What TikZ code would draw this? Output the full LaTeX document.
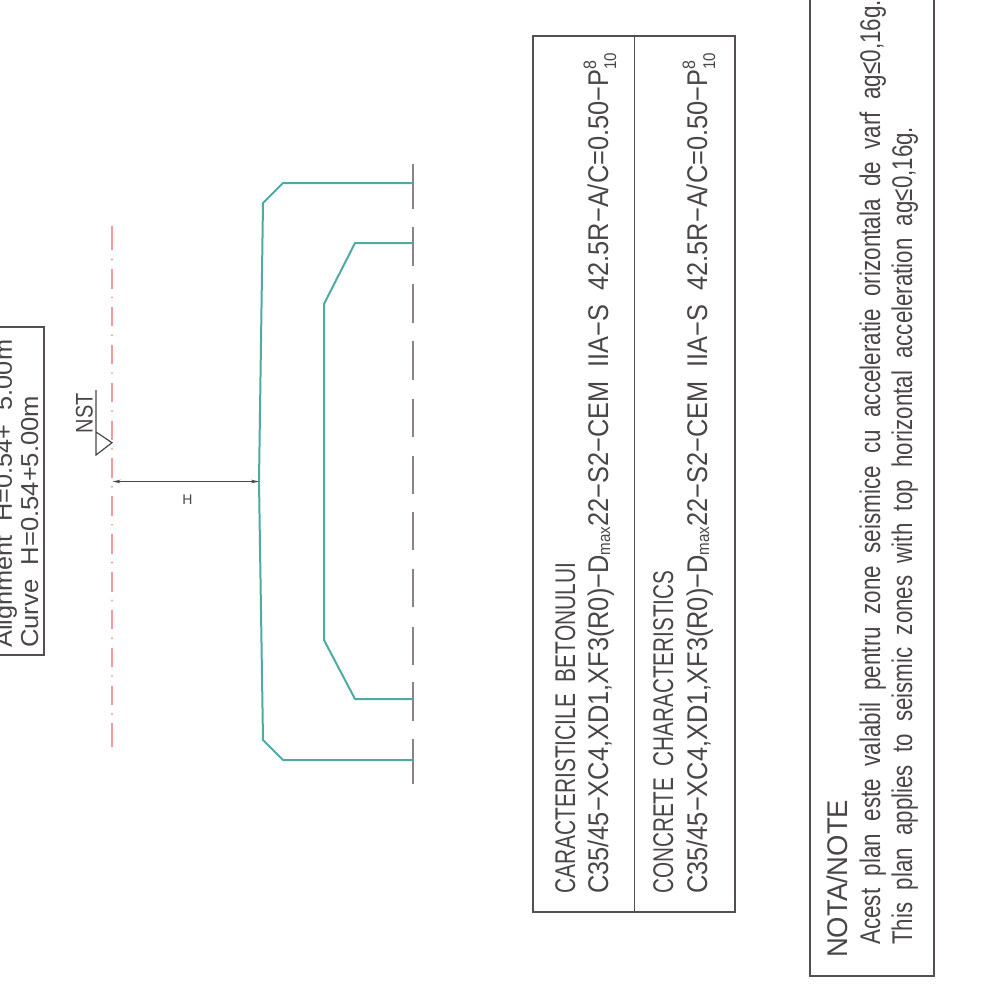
\documentclass[tikz,border=0pt]{standalone}
\usepackage{graphicx}
\usepackage{fontspec}
\setmainfont{Liberation Sans}
\usetikzlibrary{arrows.meta}
\definecolor{inkgray}{HTML}{4A4648}
\definecolor{framegray}{HTML}{55504F}
\definecolor{axisgray}{HTML}{8A8389}
\definecolor{tealline}{HTML}{4FAAA3}
\definecolor{redline}{HTML}{F59A9C}
\newsavebox{\fitbox}
\newcommand{\fittext}[2]{\sbox{\fitbox}{#2}\pgfmathsetmacro{\fitr}{#1/(\wd\fitbox/1pt)}\scalebox{\fitr}[1]{\usebox{\fitbox}}}
\newcommand{\pmark}{P\rlap{\raisebox{12pt}{\fontsize{18}{18}\selectfont 8}}\raisebox{-8pt}{\fontsize{17}{17}\selectfont 10}}
\newcommand{\dmax}{D\raisebox{-2pt}{\fontsize{17}{17}\selectfont max}}
\newcommand{\mixline}{C35/45−XC4,XD1,XF3(R0)−\dmax 22−S2−CEM\ \ IIA−S\ \ 42.5R−A/C=0.50−\pmark}
\tikzset{
  label text/.style={rotate=90,anchor=base west,inner sep=0pt,text=inkgray,font=\fontsize{28.5}{30}\selectfont},
  frame line/.style={draw=framegray,line width=1.3pt},
  teal wall/.style={draw=tealline,line width=2pt,line join=round},
  axis line/.style={draw=axisgray,line width=1.6pt},
  red axis/.style={draw=redline,line width=1.6pt},
  dim line/.style={draw=inkgray,line width=1.2pt},
}
\begin{document}
\begin{tikzpicture}[x=1pt,y=-1pt]
\useasboundingbox (0,0) rectangle (997,989);
% centre axis (red)
\draw[red axis] (112,226) -- (112,250);
\foreach \k in {0,...,12}{
  \pgfmathsetmacro{\dy}{259.5+37.875*\k}
  \fill[redline] (112,\dy) circle (1.1pt);
}
\foreach \k in {0,...,11}{
  \pgfmathsetmacro{\ya}{269+37.875*\k}
  \pgfmathsetmacro{\yb}{\ya+19.5}
  \draw[red axis] (112,\ya) -- (112,\yb);
}
\draw[red axis] (112,723) -- (112,747);
% dashed symmetry axis
\foreach \a/\b in {164/209,227/266,284/323,341/380,399/437,456/494,512/550,569/607,627/665,682/721,739/784}{
  \draw[axis line] (413,\a) -- (413,\b);
}
% profile
\coordinate (o1) at (413,183);
\coordinate (o2) at (283,183);
\coordinate (o3) at (263,203);
\coordinate (om) at (259,481.5);
\coordinate (o4) at (263,740);
\coordinate (o5) at (283,760);
\coordinate (o6) at (413,760);
\draw[teal wall] (o1) -- (o2) -- (o3) -- (om) -- (o4) -- (o5) -- (o6);
\draw[teal wall] (413,243) -- (355,243) -- (324,304) -- (324,640) -- (355,699) -- (413,699);
% dimension
\coordinate (da) at (112.5,481.5);
\draw[dim line,{Stealth[length=8pt,width=3.6pt]}-{Stealth[length=8pt,width=3.6pt]}] (da) -- (om);
\node[inner sep=0pt,text=inkgray,font=\fontsize{14}{14}\selectfont] (hlabel) at (187.5,499.5) {H};
% NST mark
\draw[dim line] (96,390) -- (96,455) -- (112,442.7) -- (96,432);
\node[label text] (nst) at (92.5,433.5) {\fontsize{24}{24}\selectfont\fittext{40}{NST}};
% alignment box
\draw[frame line] (-2,327) -- (44,327) -- (44,655) -- (-2,655);
\node[label text] (alignment) at (12,648) {\fontsize{24.5}{26}\selectfont\fittext{308}{Alignment\ \ H=0.54+\ \ 5.00m}};
\node[label text] (curve) at (38,648) {\fontsize{24.5}{26}\selectfont\fittext{252}{Curve\ \ H=0.54+5.00m}};
% concrete table
\draw[frame line] (533,36) rectangle (735,912);
\draw[frame line] (634.5,36) -- (634.5,912);
\node[label text] (caracteristici) at (575,894) {\fittext{331}{CARACTERISTICILE\ \ BETONULUI}};
\node[label text] (mixa) at (608,894) {\fittext{841}{\mixline}};
\node[label text] (concrete) at (673,894) {\fittext{323}{CONCRETE\ \ CHARACTERISTICS}};
\node[label text] (mixb) at (707,894) {\fittext{841}{\mixline}};
% note box
\draw[frame line] (810,-2) -- (810,976) -- (934,976) -- (934,-2);
\node[label text] (nota) at (847,958) {\fittext{158}{NOTA/NOTE}};
\node[label text] (acest) at (880,945) {\fittext{945}{Acest\ \ plan\ \ este\ \ valabil\ \ pentru\ \ zone\ \ seismice\ \ cu\ \ acceleratie\ \ orizontala\ \ de\ \ varf\ \ ag≤0,16g.}};
\node[label text] (this) at (912,945) {\fittext{818}{This\ \ plan\ \ applies\ \ to\ \ seismic\ \ zones\ \ with\ \ top\ \ horizontal\ \ acceleration\ \ ag≤0,16g.}};
\end{tikzpicture}
\end{document}
